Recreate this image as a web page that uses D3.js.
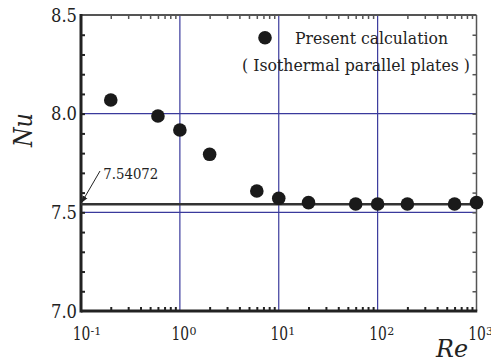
<!DOCTYPE html>
<html>
<head>
<meta charset="utf-8">
<script src="https://cdn.jsdelivr.net/npm/d3@7"></script>
<style>
  body { margin: 0; background: #fff; }
</style>
</head>
<body>
<div id="chart"></div>
<script>
// data
var re = [0.2, 0.6, 1, 2, 6, 10, 20, 60, 100, 200, 600, 1000];
var nu = [8.069, 7.988, 7.917, 7.794, 7.608, 7.571, 7.549, 7.542, 7.542, 7.542, 7.542, 7.549];
var xTicks = [0.1, 1, 10, 100, 1000];
var xExp = ["-1", "0", "1", "2", "3"];
var yTicks = [7.0, 7.5, 8.0, 8.5];
var refValue = 7.54072;

var margin = {top: 15, right: 14.5, bottom: 51, left: 81},
    width = 491 - margin.left - margin.right,
    height = 362 - margin.top - margin.bottom;

var svg = d3.select("#chart")
  .append("svg")
    .attr("width", 491)
    .attr("height", 362)
  .append("g")
    .attr("transform", "translate(" + margin.left + "," + margin.top + ")");

var x = d3.scaleLog().domain([0.1, 1000]).range([0, width]);
var y = d3.scaleLinear().domain([7, 8.5]).range([height, 0]);

var blue = "#3a3a9c";

// grid
svg.selectAll("line.vgrid")
  .data([1, 10, 100])
  .enter().append("line")
    .attr("x1", d => x(d)).attr("x2", d => x(d))
    .attr("y1", 0).attr("y2", height)
    .attr("stroke", blue).attr("stroke-width", 1.2);

svg.selectAll("line.hgrid")
  .data([7.5, 8.0])
  .enter().append("line")
    .attr("x1", 0).attr("x2", width)
    .attr("y1", d => y(d)).attr("y2", d => y(d))
    .attr("stroke", blue).attr("stroke-width", 1.2);

// minor log ticks
var minor = [];
[0.1, 1, 10, 100].forEach(function(b) {
  for (var k = 2; k <= 9; k++) minor.push(b * k);
});

function styleAxis(g, col, w) {
  g.select(".domain").remove();
  g.selectAll(".tick line").attr("stroke", col).attr("stroke-width", w);
}

svg.append("g")
  .attr("transform", "translate(0," + height + ")")
  .call(d3.axisBottom(x).tickValues(minor).tickSize(-4).tickFormat(""))
  .call(g => styleAxis(g, "#222", 2));

svg.append("g")
  .call(d3.axisTop(x).tickValues(minor).tickSize(-4).tickFormat(""))
  .call(g => styleAxis(g, "#555", 1.5));

var yMinor = d3.range(71, 85).map(d => d / 10);
svg.append("g")
  .call(d3.axisLeft(y).tickValues(yMinor).tickSize(-4).tickFormat(""))
  .call(g => styleAxis(g, "#222", 2));

svg.append("g")
  .attr("transform", "translate(" + width + ",0)")
  .call(d3.axisRight(y).tickValues(yMinor).tickSize(-4).tickFormat(""))
  .call(g => styleAxis(g, "#555", 1.5));

// frame
svg.append("line").attr("x1", 0).attr("x2", width).attr("y1", 0).attr("y2", 0)
  .attr("stroke", "#555").attr("stroke-width", 2);
svg.append("line").attr("x1", width).attr("x2", width).attr("y1", 0).attr("y2", height)
  .attr("stroke", "#555").attr("stroke-width", 1.5);
svg.append("line").attr("x1", 0).attr("x2", 0).attr("y1", -1).attr("y2", height + 1.5)
  .attr("stroke", "#222").attr("stroke-width", 3);
svg.append("line").attr("x1", 0).attr("x2", width + 0.75).attr("y1", height).attr("y2", height)
  .attr("stroke", "#222").attr("stroke-width", 3);

// y tick labels
svg.selectAll("text.ylab")
  .data(yTicks)
  .enter().append("text")
    .attr("class", "lbl")
    .attr("x", -4)
    .attr("y", d => y(d) + 6.5)
    .attr("text-anchor", "end")
    .attr("textLength", 26)
    .attr("lengthAdjust", "spacingAndGlyphs")
    .style("font-size", "18.5px")
    .text(d => d.toFixed(1));

// x tick labels with superscript
svg.selectAll("text.xlab")
  .data(xTicks)
  .enter().append("text")
    .attr("class", "lbl")
    .attr("x", d => x(d) - 8.3)
    .attr("y", height + 28.5)
    .attr("textLength", 17.6)
    .attr("lengthAdjust", "spacingAndGlyphs")
    .style("font-size", "18px")
    .text("10");

svg.selectAll("text.xexp")
  .data(xTicks)
  .enter().append("text")
    .attr("class", "lbl")
    .attr("x", d => x(d) + 9.6)
    .attr("y", height + 24)
    .style("font-size", "11px")
    .text((d, i) => xExp[i]);

// axis titles
svg.append("text")
  .attr("class", "lbl")
  .attr("transform", "translate(" + (-49) + "," + 115 + ") rotate(-90)")
  .attr("text-anchor", "middle")
  .attr("textLength", 34)
  .attr("lengthAdjust", "spacingAndGlyphs")
  .style("font-size", "26px")
  .style("font-style", "italic")
  .text("Nu");

svg.append("text")
  .attr("class", "lbl")
  .attr("x", 355)
  .attr("y", 342)
  .attr("textLength", 32)
  .attr("lengthAdjust", "spacingAndGlyphs")
  .style("font-size", "24px")
  .style("font-style", "italic")
  .text("Re");

// reference line
svg.append("line")
  .attr("x1", 0).attr("x2", width)
  .attr("y1", y(refValue)).attr("y2", y(refValue))
  .attr("stroke", "#333").attr("stroke-width", 2.5);

// annotation
svg.append("defs").append("marker")
  .attr("id", "arr")
  .attr("viewBox", "0 0 10 10")
  .attr("refX", 10).attr("refY", 5)
  .attr("markerWidth", 7).attr("markerHeight", 7)
  .attr("orient", "auto")
  .append("path").attr("d", "M0,1 L10,5 L0,9 Z").attr("fill", "#222");

svg.append("line")
  .attr("x1", 19).attr("y1", 156)
  .attr("x2", 0.5).attr("y2", y(refValue) - 1.5)
  .attr("stroke", "#222").attr("stroke-width", 1)
  .attr("marker-end", "url(#arr)");

svg.append("text")
  .attr("class", "lbl")
  .attr("x", 22.3)
  .attr("y", 164)
  .attr("textLength", 55)
  .attr("lengthAdjust", "spacingAndGlyphs")
  .style("font-size", "15.5px")
  .text("7.54072");

// points
svg.selectAll("circle.pt")
  .data(re)
  .enter().append("circle")
    .attr("cx", d => x(d))
    .attr("cy", (d, i) => y(nu[i]))
    .attr("r", 6.8)
    .attr("fill", "#1a1a1a");

// legend
svg.append("circle")
  .attr("cx", 184).attr("cy", 22.7).attr("r", 6.8).attr("fill", "#1a1a1a");
svg.append("text")
  .attr("class", "lbl")
  .attr("x", 214).attr("y", 29)
  .attr("textLength", 153)
  .attr("lengthAdjust", "spacingAndGlyphs")
  .style("font-size", "17.5px")
  .text("Present calculation");
svg.append("text")
  .attr("class", "lbl")
  .attr("x", 161).attr("y", 55.5)
  .attr("textLength", 228)
  .attr("lengthAdjust", "spacingAndGlyphs")
  .style("font-size", "17.5px")
  .text("( Isothermal parallel plates )");

svg.selectAll("text.lbl")
  .style("font-family", "'DejaVu Serif', serif")
  .style("fill", "#222");
</script>
</body>
</html>
